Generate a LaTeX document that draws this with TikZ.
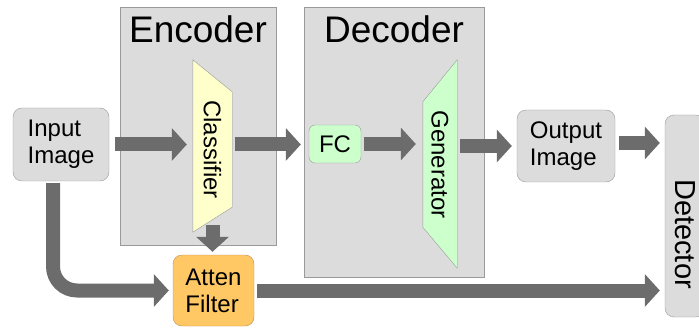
\documentclass[tikz,border=0pt]{standalone}
\usepackage{fontspec}
\setmainfont{Liberation Sans}
\usetikzlibrary{arrows.meta,calc,positioning}

\definecolor{panelgray}{HTML}{DCDCDC}
\definecolor{edgegray}{HTML}{9A9A9A}
\definecolor{arrowgray}{HTML}{6C6C6C}
\definecolor{clsyellow}{HTML}{FFFFCC}
\definecolor{gengreen}{HTML}{CCFFCC}
\definecolor{attenorange}{HTML}{FFC864}
\definecolor{attenedge}{HTML}{B98F4F}

\pgfdeclarelayer{bg}
\pgfsetlayers{bg,main}

\begin{document}
\begin{tikzpicture}[x=1pt, y=1pt,
  panel/.style={rectangle, draw=edgegray, fill=panelgray, inner sep=0pt},
  title/.style={font=\fontsize{37}{40}\selectfont, inner sep=0pt, anchor=north},
  io/.style={rectangle, draw=edgegray, fill=panelgray, rounded corners=9pt, align=left, font=\fontsize{24}{27}\selectfont},
  block/.style={rectangle, inner sep=0pt, font=\fontsize{24}{27}\selectfont},
  trap/.style={draw=edgegray},
  fat/.style={line width=14pt, draw=arrowgray, -{Triangle[width=32pt,length=15pt]}}
]
\useasboundingbox (0,0) rectangle (699,327);

% Encoder / decoder panels
\begin{pgfonlayer}{bg}
\node[panel, minimum width=156pt, minimum height=238pt] (enc) at (198,201) {};
\node[panel, minimum width=180pt, minimum height=270pt] (dec) at (394,185) {};
\end{pgfonlayer}
\node[title] (enctitle) at ([yshift=-9pt]enc.north) {Encoder};
\node[title] (dectitle) at ([yshift=-9pt]dec.north) {Decoder};

% Network blocks
\node[block, minimum width=39pt, minimum height=115pt] (cls) at (212.5,177.5) {\rotatebox{-90}{Classifier}};
\node[block, minimum width=34pt, minimum height=125pt] (gen) at (440,162.5) {\rotatebox{-90}{Generator}};
\node[io, fill=gengreen, rounded corners=6pt, minimum width=52pt, minimum height=38pt, inner sep=0pt] (fc) at (335,183) {FC};

% Trapezoid outlines behind the block labels
\begin{pgfonlayer}{bg}
\draw[trap, fill=clsyellow] ($(cls.north west)+(0,32)$) -- (cls.north east) -- (cls.south east) -- ($(cls.south west)+(0,-25)$) -- cycle;
\draw[trap, fill=gengreen] (gen.north west) -- ($(gen.north east)+(0,42)$) -- ($(gen.south east)+(0,-41)$) -- (gen.south west) -- cycle;
\end{pgfonlayer}

% Images, filter and detector
\node[io, minimum width=96pt, minimum height=73pt] (in) at (61,182.5) {Input\\Image};
\node[io, minimum width=98pt, minimum height=72pt] (out) at (566,181) {Output\\Image};
\node[io, fill=attenorange, draw=attenedge, minimum width=81pt, minimum height=71pt] (atten) at (213.5,36.5) {Atten\\Filter};
\node[io, minimum width=40pt, minimum height=202pt, inner sep=0pt, font=\fontsize{29}{33}\selectfont] (det) at (685,111) {\rotatebox{-90}{\hspace{36pt}Detector}};

% Main path
\draw[fat] ([xshift=6pt]in.east) -- ([xshift=-6pt]in.east -| cls.west);
\draw[fat] ([xshift=3pt]cls.east |- in.east) -- ([xshift=-3pt]in.east -| dec.west);
\draw[fat] ([xshift=3pt]fc.east) -- ([xshift=-7pt]fc.east -| gen.west);
\draw[fat] ([xshift=3pt]gen.east |- out.west) -- ([xshift=-5pt]out.west);
\draw[fat] ([xshift=4pt,yshift=3pt]out.east) -- ([xshift=-5pt,yshift=3pt]out.east -| det.west);

% Attention branch
\draw[fat] ([yshift=-18pt]cls.south) -- ([yshift=3pt]cls.south |- atten.north);
\draw[fat, rounded corners=24pt] ([xshift=-8pt,yshift=-2pt]in.south) |- ([xshift=-4pt]atten.west);
\draw[fat] ([xshift=3pt]atten.east) -- ([xshift=-5pt]atten.east -| det.west);

\end{tikzpicture}
\end{document}
